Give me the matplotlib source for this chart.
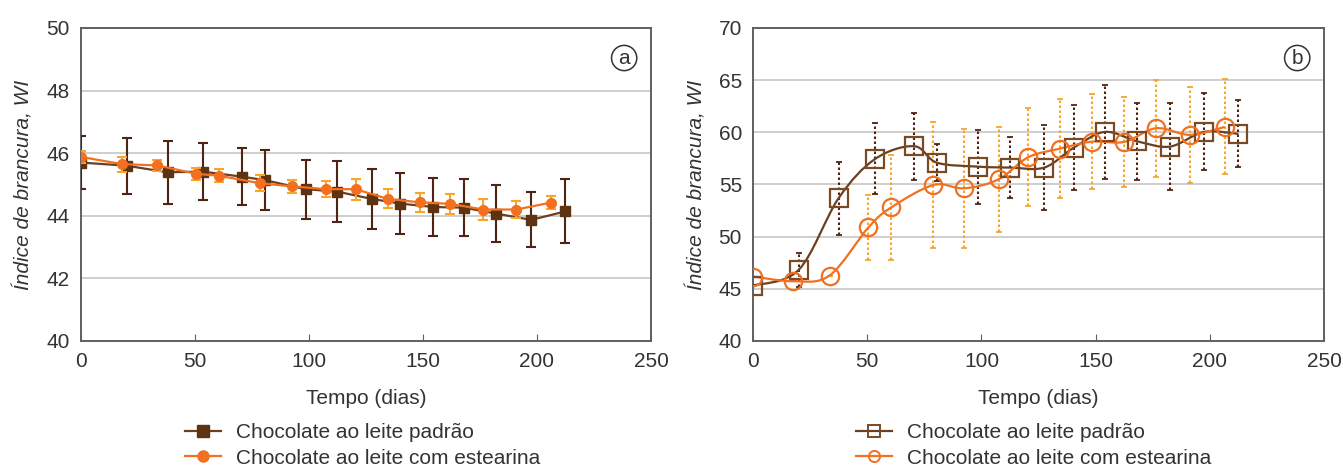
import matplotlib
matplotlib.use('Agg')
import matplotlib.pyplot as plt
from matplotlib.path import Path
from matplotlib.patches import PathPatch
from matplotlib.lines import Line2D

plt.rcParams['font.family'] = ['Liberation Sans', 'DejaVu Sans']

# painel (a) - chocolate padrão
dias_a_pad = [0, 20, 38, 53.5, 70.5, 80.5, 98.5, 112.5, 127.5, 140, 154.5, 168, 182, 197.5, 212.5]
wi_a_pad = [45.70, 45.60, 45.39, 45.41, 45.25, 45.14, 44.85, 44.77, 44.54, 44.39, 44.28, 44.26, 44.07, 43.87, 44.14]
err_a_pad = [0.84, 0.90, 1.00, 0.90, 0.90, 0.97, 0.94, 0.97, 0.97, 0.97, 0.93, 0.92, 0.90, 0.88, 1.02]
# painel (a) - chocolate com estearina
dias_a_est = [0, 18, 33.5, 50.5, 60.5, 78.5, 92.5, 107.5, 120.5, 134.5, 148.5, 162, 176.5, 191, 206]
wi_a_est = [45.88, 45.65, 45.61, 45.34, 45.28, 45.04, 44.94, 44.85, 44.85, 44.54, 44.43, 44.38, 44.20, 44.20, 44.42]
err_a_est = [0.20, 0.24, 0.18, 0.20, 0.20, 0.25, 0.21, 0.26, 0.34, 0.30, 0.30, 0.32, 0.35, 0.28, 0.21]

# painel (b) - chocolate padrão
dias_b_pad = [0, 20, 37.5, 53.5, 70.5, 80.5, 98.5, 112.5, 127.5, 140.5, 154, 168, 182.5, 197.5, 212.5]
wi_b_pad = [45.31, 46.82, 53.70, 57.45, 58.67, 57.09, 56.71, 56.62, 56.62, 58.54, 60.04, 59.15, 58.63, 60.04, 59.85]
err_b_pad = [0.0, 1.6, 3.5, 3.4, 3.2, 1.8, 3.55, 2.9, 4.1, 4.1, 4.5, 3.7, 4.2, 3.7, 3.2]
# painel (b) - chocolate com estearina
dias_b_est = [0, 17.5, 33.5, 50.5, 60.5, 79, 92.5, 107.5, 120.5, 134.5, 148.5, 162.5, 176.5, 191.5, 206.5]
wi_b_est = [46.18, 45.73, 46.27, 50.88, 52.80, 54.95, 54.63, 55.49, 57.61, 58.44, 59.11, 59.08, 60.39, 59.75, 60.52]
err_b_est = [0.0, 0.0, 0.0, 3.1, 5.0, 6.05, 5.7, 5.0, 4.7, 4.75, 4.55, 4.3, 4.65, 4.6, 4.55]

rotulos = ['Chocolate ao leite padrão', 'Chocolate ao leite com estearina']

marrom = '#6b4020'
marrom_esc = '#4f2412'
laranja = '#f2701f'
laranja_cl = '#f9a52b'
cinza = '#333333'


def curva_suave(x, y):
    # curva de Bezier tipo Excel passando pelos pontos
    n = len(x)
    verts = [(x[0], y[0])]
    codes = [Path.MOVETO]
    for i in range(n - 1):
        x0, y0 = (x[i - 1], y[i - 1]) if i > 0 else (x[i], y[i])
        x3, y3 = (x[i + 2], y[i + 2]) if i + 2 < n else (x[i + 1], y[i + 1])
        c1 = (x[i] + (x[i + 1] - x0) / 6, y[i] + (y[i + 1] - y0) / 6)
        c2 = (x[i + 1] - (x3 - x[i]) / 6, y[i + 1] - (y3 - y[i]) / 6)
        verts += [c1, c2, (x[i + 1], y[i + 1])]
        codes += [Path.CURVE4] * 3
    return Path(verts, codes)


def estilo_eixo(ax, ymin, ymax, passo, letra):
    ax.set_xlim(0, 250)
    ax.set_ylim(ymin, ymax)
    ax.set_xticks(range(0, 251, 50))
    ax.set_yticks(range(ymin, ymax + 1, passo))
    ax.grid(axis='y', color='#c6c6c6', lw=1.2)
    ax.set_axisbelow(True)
    for s in ax.spines.values():
        s.set_color('#606060')
        s.set_linewidth(1.4)
    ax.tick_params(axis='x', direction='in', length=5, color='#606060', labelsize=15,
                   labelcolor=cinza, pad=8)
    ax.tick_params(axis='y', length=0, labelsize=15, labelcolor=cinza, pad=8)
    ax.set_xlabel('Tempo (dias)', fontsize=15, color=cinza, labelpad=13)
    ax.set_ylabel('Índice de brancura, WI', fontsize=15, color=cinza, style='italic', labelpad=9)
    ax.text(0.953, 0.904, letra, transform=ax.transAxes, fontsize=15, color=cinza,
            ha='center', va='center',
            bbox=dict(boxstyle='circle,pad=0.15', fc='white', ec=cinza, lw=1.1))


fig = plt.figure(figsize=(13.43, 4.70), dpi=100)
ax1 = fig.add_axes([0.0603, 0.2745, 0.4244, 0.666])
ax2 = fig.add_axes([0.5607, 0.2745, 0.4252, 0.666])

# (a)
ax1.errorbar(dias_a_pad, wi_a_pad, yerr=err_a_pad, color=marrom, lw=1.6, marker='s', ms=6.5,
             mfc='#5e3311', mec='#5e3311', ecolor=marrom_esc, elinewidth=1.5, capsize=3.5,
             capthick=1.5, zorder=3)
ax1.errorbar(dias_a_est, wi_a_est, yerr=err_a_est, color=laranja, lw=1.6, marker='o', ms=7,
             mfc=laranja, mec=laranja, ecolor=laranja_cl, elinewidth=1.5, capsize=3.5,
             capthick=1.5, zorder=4)
estilo_eixo(ax1, 40, 50, 2, 'a')

# (b)
eb = ax2.errorbar(dias_b_pad, wi_b_pad, yerr=err_b_pad, fmt='none', ecolor=marrom_esc,
                  elinewidth=1.5, capsize=2.5, capthick=1.3, zorder=2)
eb[2][0].set_linestyle((0, (1.2, 1.2)))
eb = ax2.errorbar(dias_b_est, wi_b_est, yerr=err_b_est, fmt='none', ecolor=laranja_cl,
                  elinewidth=1.5, capsize=2.5, capthick=1.3, zorder=2)
eb[2][0].set_linestyle((0, (1.2, 1.2)))
ax2.add_patch(PathPatch(curva_suave(dias_b_pad, wi_b_pad), fill=False, ec=marrom, lw=1.6, zorder=3))
ax2.add_patch(PathPatch(curva_suave(dias_b_est, wi_b_est), fill=False, ec=laranja, lw=1.6, zorder=3))
ax2.plot(dias_b_pad, wi_b_pad, ls='none', marker='s', ms=12.5, mfc='none', mec='#7a4a22', mew=1.6, zorder=4)
ax2.plot(dias_b_est, wi_b_est, ls='none', marker='o', ms=12.5, mfc='none', mec=laranja, mew=1.6, zorder=4)
estilo_eixo(ax2, 40, 70, 5, 'b')

# legendas
h_a = [Line2D([], [], color=marrom, lw=1.6, marker='s', ms=8, mfc='#5e3311', mec='#5e3311'),
       Line2D([], [], color=laranja, lw=1.6, marker='o', ms=8, mfc=laranja, mec=laranja)]
h_b = [Line2D([], [], color=marrom, lw=1.6, marker='s', ms=8, mfc='none', mec='#7a4a22', mew=1.4),
       Line2D([], [], color=laranja, lw=1.6, marker='o', ms=8, mfc='none', mec=laranja, mew=1.4)]
for h, x0 in [(h_a, 185 / 1343), (h_b, 856 / 1343)]:
    leg = fig.legend(h, rotulos, loc='upper left', bbox_to_anchor=(x0, 1 - 423 / 470),
                     frameon=False, fontsize=15, borderpad=0, borderaxespad=0,
                     handlelength=1.75, handletextpad=0.7, labelspacing=0.32)
    for t in leg.get_texts():
        t.set_color(cinza)

fig.savefig('out.png', dpi=100)
